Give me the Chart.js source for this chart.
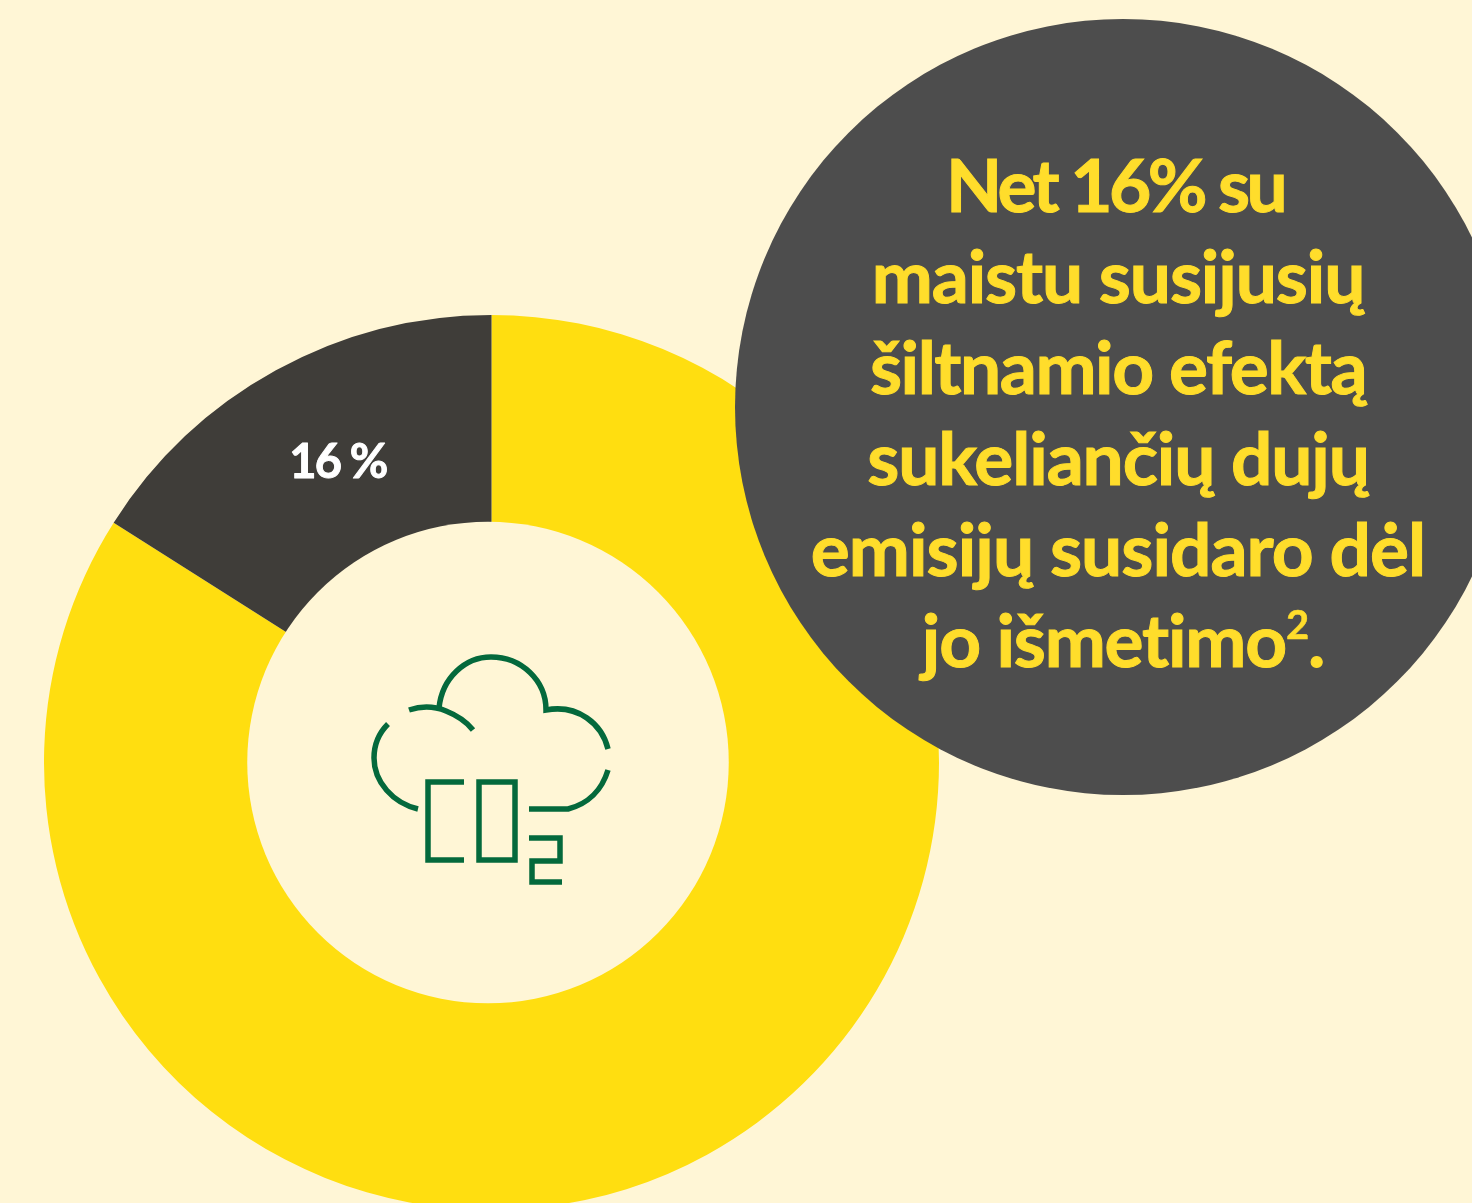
<!DOCTYPE html>
<html lang="lt">
<head>
<meta charset="utf-8">
<style>
html,body{margin:0;padding:0;width:1472px;height:1203px;overflow:hidden;background:#FFF6D6;}
#stage{position:relative;width:1472px;height:1203px;overflow:hidden;background:#FFF6D6;}
#wrap{position:absolute;left:44px;top:315px;width:895px;height:895px;}
#bubble{position:absolute;left:735px;top:19px;width:776px;height:776px;border-radius:50%;background:#4D4D4D;}
.l{position:absolute;left:733px;width:770px;text-align:center;color:#FFDD2B;font:700 73px/91px Lato,sans-serif;white-space:nowrap;-webkit-text-stroke:1px #FFDD2B;}
.l sup{font-size:40px;line-height:0;vertical-align:28px;font-weight:700;-webkit-text-stroke:0.5px #FFDD2B;}
#icon{position:absolute;left:350px;top:640px;}
</style>
<script src="https://cdn.jsdelivr.net/npm/chart.js@4"></script>
</head>
<body>
<div id="stage">
  <div id="wrap"><canvas id="c" width="895" height="895"></canvas></div>
  <svg id="icon" width="280" height="260" viewBox="0 0 280 260" fill="none" stroke="#04693C" stroke-width="5.5">
    <path d="M89 68C92 38 115 17 141 17C171 17 196 40 196 70C228 64 252 84 258 109"/>
    <path d="M59 70C71 66 84 66 96 71C106 75 116 81 123 90"/>
    <path d="M38 84C27 95 24 107 24 118C24 142 43 163 68 169"/>
    <path d="M258 130C252 150 238 164 218 169H179"/>
    <path d="M114 142H78V220H114"/>
    <rect x="129" y="142" width="36" height="78"/>
    <path d="M179 198H210V221H182V242H212"/>
  </svg>
  <div id="bubble"></div>
  <div class="l" style="top:139px;left:730px;letter-spacing:-3.6px">Net 16% su</div>
  <div class="l" style="top:230px;letter-spacing:-1.1px">maistu susijusių</div>
  <div class="l" style="top:321px;letter-spacing:-1.45px">šiltnamio efektą</div>
  <div class="l" style="top:412px;letter-spacing:-1.1px">sukeliančių dujų</div>
  <div class="l" style="top:503px;letter-spacing:-0.95px">emisijų susidaro dėl</div>
  <div class="l" style="top:594px;left:738px;letter-spacing:-1.2px">jo išmetimo<sup>2</sup>.</div>
</div>
<script>
const categories = ["Kita", "Išmestas maistas"];
const values = [84, 16];
const sliceLabels = ["", "16 %"];
const sliceColors = ["#FFDE10", "#3F3D39"];
const pageColor = "#FFF6D6";

const holePlugin = {
  id: "offsetHole",
  afterDatasetsDraw(chart) {
    const ctx = chart.ctx;
    const arc = chart.getDatasetMeta(0).data[0];
    ctx.save();
    ctx.fillStyle = pageColor;
    ctx.beginPath();
    ctx.arc(arc.x - 3.5, arc.y, arc.outerRadius * 0.538, 0, Math.PI * 2);
    ctx.fill();
    ctx.restore();
  }
};

const labelPlugin = {
  id: "sliceLabels",
  afterDatasetsDraw(chart) {
    const ctx = chart.ctx;
    chart.getDatasetMeta(0).data.forEach((arc, i) => {
      if (!sliceLabels[i]) return;
      const p = arc.getCenterPoint();
      ctx.save();
      ctx.fillStyle = "#FFFFFF";
      ctx.strokeStyle = "#FFFFFF";
      ctx.lineWidth = 1;
      ctx.lineJoin = "round";
      ctx.font = "700 47px Lato, sans-serif";
      ctx.letterSpacing = "-1.8px";
      ctx.textAlign = "center";
      ctx.textBaseline = "middle";
      ctx.fillText(sliceLabels[i], p.x + 8, p.y - 6);
      ctx.strokeText(sliceLabels[i], p.x + 8, p.y - 6);
      ctx.restore();
    });
  }
};

new Chart(document.getElementById("c"), {
  type: "doughnut",
  data: {
    labels: categories,
    datasets: [{ data: values, backgroundColor: sliceColors, borderWidth: 0 }]
  },
  options: {
    responsive: false,
    animation: false,
    cutout: "50%",
    layout: { padding: 0 },
    plugins: { legend: { display: false }, tooltip: { enabled: false } }
  },
  plugins: [holePlugin, labelPlugin]
});
</script>
</body>
</html>
